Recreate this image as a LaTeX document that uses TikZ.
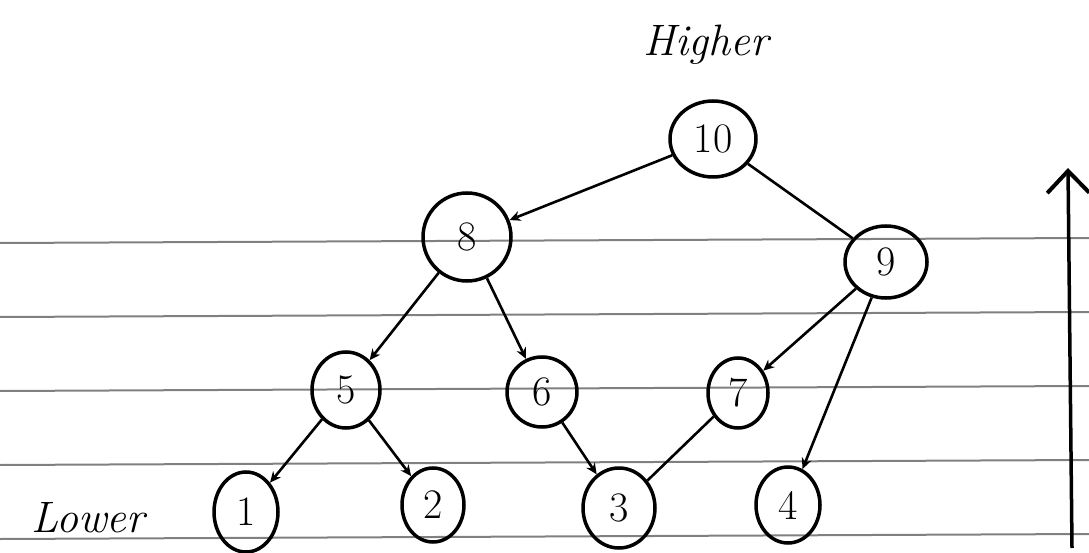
\documentclass[tikz,border=0pt]{standalone}
\usepackage{fontspec}
\usetikzlibrary{shapes.geometric,arrows.meta}
\begin{document}
\begin{tikzpicture}[x=1pt,y=-1pt,
  paperline/.style={draw=black!50,line width=2pt},
  tnode/.style={ellipse,draw=black,line width=3.5pt,inner sep=0pt,
    font=\fontsize{42}{46}\selectfont},
  edge/.style={draw=black,line width=2.6pt,-{Stealth[length=11pt,width=10pt]}},
  plain/.style={draw=black,line width=2.6pt},
  word/.style={font=\fontsize{44}{48}\selectfont\itshape}]
\useasboundingbox (0,0) rectangle (1089,553);
% ruled paper
\foreach \y in {243,317,391,465,539}
  \draw[paperline] (0,\y) -- (1089,\y-5);
% nodes
\node[tnode,minimum width=86pt,minimum height=76pt] (n10) at (713,139) {10};
\node[tnode,minimum width=88pt,minimum height=88pt] (n8) at (467,237) {8};
\node[tnode,minimum width=82pt,minimum height=72pt] (n9) at (886,262) {9};
\node[tnode,minimum width=68pt,minimum height=76pt] (n5) at (346,390) {5};
\node[tnode,minimum width=70pt,minimum height=70pt] (n6) at (542,392) {6};
\node[tnode,minimum width=60pt,minimum height=70pt] (n7) at (738,393) {7};
\node[tnode,minimum width=64pt,minimum height=80pt] (n1) at (246,512) {1};
\node[tnode,minimum width=62pt,minimum height=74pt] (n2) at (433,505) {2};
\node[tnode,minimum width=72pt,minimum height=80pt] (n3) at (619,508) {3};
\node[tnode,minimum width=64pt,minimum height=76pt] (n4) at (788,505) {4};
% labels
\node[word] (hi) at (706,45) {Higher};
\node[word] (lo) at (88,518) {Lower};
% edges
\draw[edge] (n10) -- (n8);
\draw[plain] (n10) -- (n9);
\draw[edge] (n8) -- (n5);
\draw[edge] (n8) -- (n6);
\draw[edge] (n9) -- (n7);
\draw[edge] (n9) -- (n4);
\draw[edge] (n5) -- (n1);
\draw[edge] (n5) -- (n2);
\draw[edge] (n6) -- (n3);
\draw[plain] (n7) -- (n3);
% vertical arrow
\coordinate (abot) at (1072,548);
\coordinate (atop) at (1068,168);
\draw[line width=3.5pt,-{Straight Barb[length=22pt,width=42pt,line width=4pt]}] (abot) -- (atop);
\end{tikzpicture}
\end{document}
